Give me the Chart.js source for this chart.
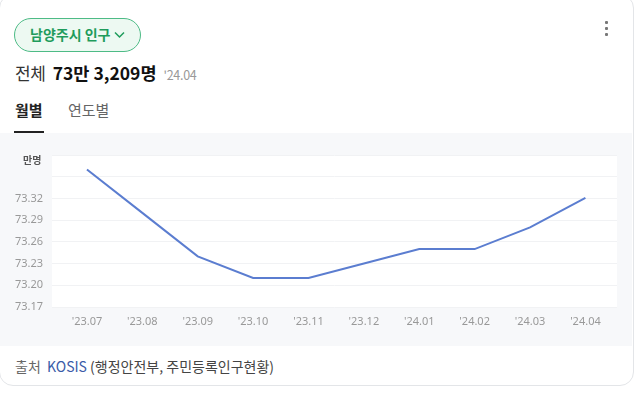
<!DOCTYPE html>
<html><head><meta charset="utf-8">
<script src="https://cdn.jsdelivr.net/npm/chart.js@4"></script>
<style>
html,body{margin:0;padding:0;background:#fff;width:640px;height:396px;overflow:hidden;font-family:"Noto Sans CJK KR","Noto Sans",sans-serif;}
#card{position:absolute;left:-1px;top:-6px;width:633px;height:390px;border:1px solid #e3e5e8;border-radius:14px;background:#fff;overflow:hidden;}
.abs{position:absolute;white-space:nowrap;}
#pill{left:14px;top:18px;width:125px;height:32px;border:1px solid #4dbb86;border-radius:17px;background:#edf9f2;}
#pilltxt{left:30px;top:24px;font-size:14px;font-weight:700;color:#1f9c5c;line-height:20px;letter-spacing:0px;}
#band{position:absolute;left:0;top:133px;width:632px;height:213px;background:#f7f8fa;}
#wrap{position:absolute;left:0;top:133px;width:632px;height:213px;}
</style></head>
<body>
<div id="card"></div>
<div class="abs" id="pill"></div>
<div class="abs" id="pilltxt">남양주시 인구 <svg width="11" height="8" viewBox="0 0 11 8" style="vertical-align:1px"><path d="M1 1.5 L5.5 6 L10 1.5" stroke="#1f9c5c" stroke-width="1.5" fill="none"/></svg></div>
<div class="abs" style="left:605px;top:21px;">
  <div style="width:3px;height:3px;background:#777;border-radius:1px;margin-bottom:3px"></div>
  <div style="width:3px;height:3px;background:#777;border-radius:1px;margin-bottom:3px"></div>
  <div style="width:3px;height:3px;background:#777;border-radius:1px;"></div>
</div>
<div class="abs" style="left:15px;top:60px;font-size:17px;line-height:26px;color:#333;letter-spacing:-0.3px;">전체<b style="color:#111;font-size:17.5px;margin-left:7px;letter-spacing:0px;">73만 3,209명</b><span style="font-size:12.5px;color:#999;margin-left:7px;">'24.04</span></div>
<div class="abs" style="left:15px;top:99px;font-size:15px;line-height:22px;font-weight:700;color:#222;">월별</div>
<div class="abs" style="left:68px;top:99px;font-size:15px;line-height:22px;color:#666;">연도별</div>
<div class="abs" style="left:14px;top:131px;width:30px;height:2px;background:#222;"></div>
<div id="band"></div>
<div id="wrap"><canvas id="c"></canvas></div>
<div class="abs" style="left:23px;top:153px;font-size:10px;line-height:14px;font-weight:700;color:#555;">만명</div>
<div class="abs" style="left:15px;top:356px;font-size:14px;line-height:20px;color:#666;">출처&nbsp; <span style="color:#3a5ba8;">KOSIS</span> <span style="color:#444;">(행정안전부, 주민등록인구현황)</span></div>
<script>
const categories = ["'23.07","'23.08","'23.09","'23.10","'23.11","'23.12","'24.01","'24.02","'24.03","'24.04"];
const population = [73.36, 73.30, 73.24, 73.21, 73.21, 73.23, 73.25, 73.25, 73.28, 73.3209];
const yTicks = [73.17, 73.20, 73.23, 73.26, 73.29, 73.32, 73.35, 73.38];
const yLabelMax = 73.32;

const plotBg = {
  id:'plotBg',
  beforeDraw(chart){
    const {ctx, chartArea:a} = chart;
    ctx.save(); ctx.fillStyle='#ffffff';
    ctx.fillRect(a.left, a.top, a.right-a.left, a.bottom-a.top);
    ctx.restore();
  }
};

new Chart(document.getElementById('c'), {
  type:'line',
  data:{datasets:[{
    data: population.map((v,i)=>({x:i,y:v})),
    borderColor:'#5b7dd0', borderWidth:2, pointRadius:0, tension:0, fill:false
  }]},
  options:{
    responsive:true, maintainAspectRatio:false, animation:false,
    layout:{padding:{top:22,right:15,left:0,bottom:0}},
    plugins:{legend:{display:false},tooltip:{enabled:false}},
    scales:{
      x:{type:'linear', min:-0.631, max:9.57,
        afterBuildTicks(s){ s.ticks = categories.map((_,i)=>({value:i})); },
        afterFit(s){ s.height = 39; },
        grid:{display:false, drawTicks:false}, border:{display:false},
        ticks:{autoSkip:false, maxRotation:0, padding:8, color:'#999', font:{family:'"Noto Sans","Open Sans",sans-serif', size:11},
          callback:(v)=>categories[v] ?? ''}
      },
      y:{min:yTicks[0], max:yTicks[yTicks.length-1],
        afterBuildTicks(s){ s.ticks = yTicks.map(v=>({value:v})); },
        afterFit(s){ s.width = 52; },
        grid:{color:'#f1f2f4', drawTicks:false, lineWidth:1}, border:{display:false},
        ticks:{padding:9, color:'#999', font:{family:'"Noto Sans","Open Sans",sans-serif', size:11},
          callback:(v)=> v <= yLabelMax+1e-9 ? v.toFixed(2) : ''}
      }
    }
  },
  plugins:[plotBg]
});
</script>
</body></html>
